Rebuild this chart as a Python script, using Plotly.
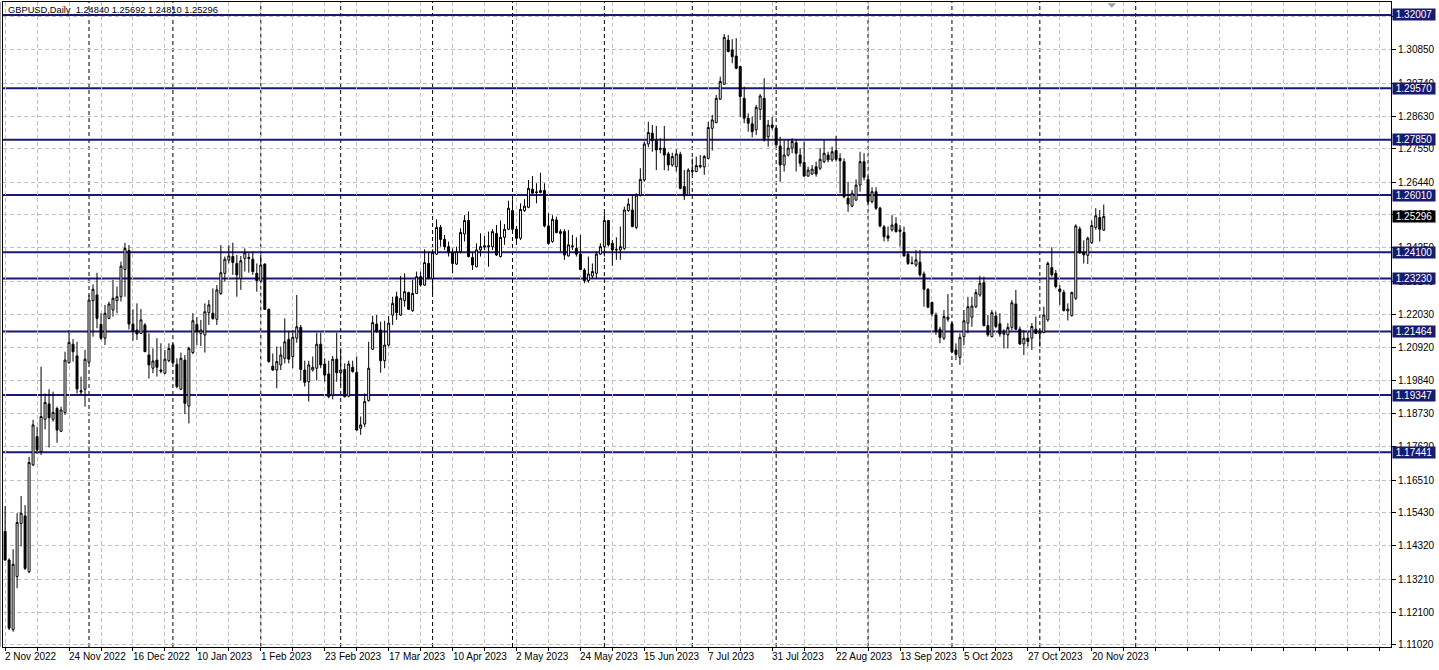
import pandas as pd
import plotly.graph_objects as go

# ---------------- data ----------------
header_text = "GBPUSD,Daily\u00a0\u00a01.24840 1.25692 1.24810 1.25296"

trading_days = pd.bdate_range("2022-11-02", "2023-11-23")
trading_days = trading_days[trading_days != pd.Timestamp("2022-12-26")]

open_prices = [
    1.1480, 1.1385, 1.1154, 1.1330, 1.1507, 1.1532, 1.1346, 1.1702, 1.1796, 1.1746,
    1.1854, 1.1905, 1.1854, 1.1890, 1.1814, 1.1876, 1.2042, 1.2104, 1.2065, 1.1949,
    1.1954, 1.2044, 1.2249, 1.2268, 1.2170, 1.2124, 1.2190, 1.2218, 1.2249, 1.2262,
    1.2353, 1.2416, 1.2171, 1.2151, 1.2140, 1.2168, 1.2068, 1.2024, 1.2051, 1.2018,
    1.2007, 1.2049, 1.2101, 1.2037, 1.1954, 1.2051, 1.1898, 1.2076, 1.2170, 1.2140,
    1.2135, 1.2209, 1.2207, 1.2187, 1.2273, 1.2340, 1.2384, 1.2396, 1.2373, 1.2323,
    1.2390, 1.2393, 1.2387, 1.2340, 1.2314, 1.2371, 1.2220, 1.2031, 1.2018, 1.2035,
    1.2057, 1.2120, 1.2063, 1.2124, 1.2160, 1.2018, 1.1979, 1.2018, 1.2024, 1.2104,
    1.2038, 1.2005, 1.1935, 1.2054, 1.2009, 1.2020, 1.1931, 1.2027, 1.2010, 1.1824,
    1.1838, 1.1916, 1.2087, 1.2171, 1.2151, 1.2049, 1.2101, 1.2201, 1.2262, 1.2201,
    1.2249, 1.2276, 1.2216, 1.2273, 1.2329, 1.2301, 1.2373, 1.2323, 1.2404, 1.2493,
    1.2453, 1.2429, 1.2409, 1.2371, 1.2412, 1.2471, 1.2516, 1.2393, 1.2362, 1.2418,
    1.2427, 1.2432, 1.2429, 1.2473, 1.2396, 1.2460, 1.2487, 1.2549, 1.2487, 1.2457,
    1.2549, 1.2560, 1.2620, 1.2609, 1.2609, 1.2616, 1.2498, 1.2446, 1.2518, 1.2479,
    1.2479, 1.2398, 1.2429, 1.2423, 1.2404, 1.2351, 1.2316, 1.2331, 1.2340, 1.2404,
    1.2429, 1.2516, 1.2440, 1.2418, 1.2418, 1.2423, 1.2549, 1.2551, 1.2493, 1.2601,
    1.2651, 1.2771, 1.2807, 1.2782, 1.2757, 1.2757, 1.2738, 1.2701, 1.2695, 1.2736,
    1.2629, 1.2601, 1.2679, 1.2679, 1.2695, 1.2695, 1.2723, 1.2823, 1.2842, 1.2920,
    1.2970, 1.3117, 1.3084, 1.3064, 1.3029, 1.2923, 1.2857, 1.2838, 1.2818, 1.2886,
    1.2923, 1.2795, 1.2834, 1.2823, 1.2764, 1.2701, 1.2734, 1.2757, 1.2775, 1.2734,
    1.2709, 1.2664, 1.2671, 1.2695, 1.2690, 1.2712, 1.2734, 1.2718, 1.2749, 1.2723,
    1.2712, 1.2590, 1.2564, 1.2584, 1.2634, 1.2712, 1.2653, 1.2579, 1.2612, 1.2557,
    1.2495, 1.2465, 1.2485, 1.2505, 1.2479, 1.2476, 1.2404, 1.2372, 1.2368, 1.2377,
    1.2338, 1.2287, 1.2243, 1.2201, 1.2154, 1.2124, 1.2187, 1.2172, 1.2085, 1.2060,
    1.2129, 1.2174, 1.2194, 1.2229, 1.2268, 1.2309, 1.2166, 1.2129, 1.2198, 1.2172,
    1.2137, 1.2135, 1.2160, 1.2238, 1.2154, 1.2105, 1.2124, 1.2124, 1.2154, 1.2138,
    1.2143, 1.2185, 1.2359, 1.2340, 1.2288, 1.2277, 1.2215, 1.2199, 1.2257, 1.2488,
    1.2409, 1.2400, 1.2442, 1.2493, 1.2526, 1.24840,
]

high_prices = [
    1.1565, 1.1391, 1.1421, 1.1541, 1.1598, 1.1568, 1.1729, 1.1852, 1.1829, 1.2029,
    1.1940, 1.1954, 1.1946, 1.1896, 1.1896, 1.2079, 1.2151, 1.2121, 1.2112, 1.1996,
    1.2085, 1.2268, 1.2303, 1.2342, 1.2207, 1.2235, 1.2246, 1.2318, 1.2296, 1.2379,
    1.2442, 1.2434, 1.2220, 1.2240, 1.2221, 1.2174, 1.2140, 1.2090, 1.2124, 1.2107,
    1.2085, 1.2107, 1.2107, 1.2057, 1.2076, 1.2068, 1.2096, 1.2207, 1.2194, 1.2185,
    1.2240, 1.2251, 1.2290, 1.2301, 1.2434, 1.2396, 1.2434, 1.2442, 1.2401, 1.2398,
    1.2423, 1.2407, 1.2412, 1.2373, 1.2401, 1.2373, 1.2223, 1.2073, 1.2096, 1.2096,
    1.2190, 1.2146, 1.2151, 1.2268, 1.2168, 1.2049, 1.2049, 1.2063, 1.2142, 1.2142,
    1.2057, 1.2049, 1.2065, 1.2142, 1.2090, 1.2040, 1.2049, 1.2049, 1.2063, 1.1863,
    1.1940, 1.2112, 1.2199, 1.2201, 1.2179, 1.2182, 1.2198, 1.2262, 1.2279, 1.2331,
    1.2340, 1.2279, 1.2318, 1.2346, 1.2346, 1.2420, 1.2412, 1.2420, 1.2520, 1.2501,
    1.2468, 1.2446, 1.2423, 1.2429, 1.2490, 1.2534, 1.2546, 1.2412, 1.2440, 1.2473,
    1.2464, 1.2479, 1.2487, 1.2501, 1.2516, 1.2504, 1.2582, 1.2587, 1.2498, 1.2573,
    1.2587, 1.2651, 1.2664, 1.2640, 1.2675, 1.2640, 1.2540, 1.2534, 1.2529, 1.2487,
    1.2487, 1.2484, 1.2468, 1.2460, 1.2468, 1.2357, 1.2396, 1.2373, 1.2412, 1.2440,
    1.2542, 1.2518, 1.2451, 1.2460, 1.2496, 1.2562, 1.2590, 1.2601, 1.2607, 1.2690,
    1.2779, 1.2845, 1.2834, 1.2831, 1.2790, 1.2831, 1.2745, 1.2742, 1.2753, 1.2745,
    1.2684, 1.2690, 1.2723, 1.2729, 1.2734, 1.2734, 1.2845, 1.2868, 1.2934, 1.2995,
    1.3137, 1.3134, 1.3120, 1.3123, 1.3029, 1.2962, 1.2873, 1.2862, 1.2901, 1.2937,
    1.2990, 1.2851, 1.2862, 1.2829, 1.2795, 1.2784, 1.2786, 1.2790, 1.2784, 1.2757,
    1.2779, 1.2695, 1.2701, 1.2712, 1.2757, 1.2784, 1.2745, 1.2762, 1.2798, 1.2740,
    1.2723, 1.2645, 1.2618, 1.2653, 1.2745, 1.2740, 1.2665, 1.2627, 1.2627, 1.2562,
    1.2501, 1.2496, 1.2534, 1.2527, 1.2501, 1.2496, 1.2412, 1.2396, 1.2418, 1.2418,
    1.2346, 1.2290, 1.2246, 1.2209, 1.2162, 1.2218, 1.2271, 1.2179, 1.2107, 1.2140,
    1.2218, 1.2262, 1.2262, 1.2287, 1.2332, 1.2329, 1.2201, 1.2218, 1.2213, 1.2207,
    1.2154, 1.2174, 1.2251, 1.2285, 1.2163, 1.2151, 1.2146, 1.2174, 1.2196, 1.2154,
    1.2229, 1.2379, 1.2427, 1.2351, 1.2301, 1.2285, 1.2240, 1.2279, 1.2503, 1.2496,
    1.2450, 1.2462, 1.2516, 1.2557, 1.2551, 1.25692,
]

low_prices = [
    1.1383, 1.1152, 1.1146, 1.1291, 1.1430, 1.1352, 1.1341, 1.1698, 1.1738, 1.1735,
    1.1820, 1.1760, 1.1846, 1.1776, 1.1811, 1.1868, 1.2040, 1.2046, 1.1940, 1.1935,
    1.1896, 1.2040, 1.2129, 1.2157, 1.2118, 1.2101, 1.2187, 1.2196, 1.2207, 1.2246,
    1.2262, 1.2153, 1.2116, 1.2118, 1.2138, 1.2079, 1.1990, 1.2007, 1.1996, 1.2007,
    1.2004, 1.2044, 1.2040, 1.1957, 1.1951, 1.1871, 1.1840, 1.2071, 1.2101, 1.2098,
    1.2076, 1.2168, 1.2185, 1.2168, 1.2268, 1.2312, 1.2373, 1.2335, 1.2262, 1.2285,
    1.2346, 1.2342, 1.2335, 1.2279, 1.2309, 1.2218, 1.2042, 1.2015, 1.1957, 1.2018,
    1.2040, 1.2040, 1.2024, 1.2109, 1.1983, 1.1963, 1.1913, 1.2013, 1.1983, 1.2024,
    1.1979, 1.1924, 1.1920, 1.1979, 1.1968, 1.1927, 1.1927, 1.2009, 1.1816, 1.1802,
    1.1829, 1.1913, 1.2085, 1.2142, 1.2009, 1.2024, 1.2096, 1.2168, 1.2185, 1.2198,
    1.2229, 1.2218, 1.2212, 1.2271, 1.2296, 1.2298, 1.2320, 1.2271, 1.2401, 1.2429,
    1.2418, 1.2396, 1.2340, 1.2368, 1.2407, 1.2446, 1.2393, 1.2351, 1.2360, 1.2396,
    1.2418, 1.2362, 1.2418, 1.2398, 1.2393, 1.2435, 1.2484, 1.2484, 1.2435, 1.2451,
    1.2545, 1.2557, 1.2607, 1.2573, 1.2607, 1.2493, 1.2435, 1.2442, 1.2473, 1.2412,
    1.2385, 1.2396, 1.2418, 1.2396, 1.2351, 1.2307, 1.2309, 1.2323, 1.2323, 1.2401,
    1.2396, 1.2429, 1.2365, 1.2385, 1.2385, 1.2418, 1.2545, 1.2493, 1.2487, 1.2596,
    1.2645, 1.2760, 1.2745, 1.2684, 1.2740, 1.2684, 1.2682, 1.2695, 1.2679, 1.2620,
    1.2584, 1.2598, 1.2668, 1.2677, 1.2690, 1.2668, 1.2720, 1.2749, 1.2840, 1.2918,
    1.2967, 1.3076, 1.3040, 1.3020, 1.2862, 1.2840, 1.2812, 1.2793, 1.2801, 1.2851,
    1.2779, 1.2762, 1.2818, 1.2764, 1.2645, 1.2679, 1.2729, 1.2740, 1.2679, 1.2695,
    1.2662, 1.2662, 1.2668, 1.2662, 1.2684, 1.2707, 1.2710, 1.2712, 1.2712, 1.2607,
    1.2590, 1.2545, 1.2560, 1.2582, 1.2612, 1.2650, 1.2570, 1.2573, 1.2551, 1.2493,
    1.2446, 1.2446, 1.2479, 1.2476, 1.2429, 1.2396, 1.2368, 1.2371, 1.2362, 1.2329,
    1.2229, 1.2224, 1.2196, 1.2135, 1.2107, 1.2118, 1.2179, 1.2074, 1.2051, 1.2035,
    1.2101, 1.2140, 1.2162, 1.2224, 1.2262, 1.2163, 1.2129, 1.2127, 1.2157, 1.2129,
    1.2090, 1.2090, 1.2151, 1.2151, 1.2101, 1.2068, 1.2096, 1.2085, 1.2138, 1.2096,
    1.2140, 1.2179, 1.2329, 1.2290, 1.2235, 1.2213, 1.2183, 1.2196, 1.2251, 1.2405,
    1.2373, 1.2371, 1.2438, 1.2485, 1.2446, 1.24810,
]

close_prices = [
    1.1385, 1.1158, 1.1371, 1.1510, 1.1541, 1.1357, 1.1710, 1.1835, 1.1752, 1.1863,
    1.1910, 1.1859, 1.1877, 1.1818, 1.1885, 1.2051, 1.2110, 1.2079, 1.1955, 1.1945,
    1.2054, 1.2251, 1.2287, 1.2190, 1.2124, 1.2207, 1.2238, 1.2257, 1.2262, 1.2364,
    1.2423, 1.2171, 1.2146, 1.2138, 1.2185, 1.2079, 1.2035, 1.2048, 1.2027, 1.2014,
    1.2054, 1.2090, 1.2042, 1.1963, 1.2057, 1.1907, 1.2090, 1.2182, 1.2146, 1.2151,
    1.2212, 1.2235, 1.2190, 1.2285, 1.2342, 1.2387, 1.2398, 1.2376, 1.2335, 1.2382,
    1.2409, 1.2390, 1.2346, 1.2316, 1.2368, 1.2220, 1.2046, 1.2018, 1.2046, 1.2068,
    1.2112, 1.2054, 1.2127, 1.2162, 1.2020, 1.1977, 1.2035, 1.2027, 1.2104, 1.2035,
    1.2001, 1.1929, 1.2054, 1.2009, 1.2018, 1.1929, 1.2038, 1.2013, 1.1818, 1.1835,
    1.1913, 1.2024, 1.2176, 1.2146, 1.2049, 1.2101, 1.2174, 1.2240, 1.2209, 1.2257,
    1.2279, 1.2220, 1.2273, 1.2329, 1.2301, 1.2376, 1.2323, 1.2409, 1.2493, 1.2453,
    1.2429, 1.2409, 1.2373, 1.2412, 1.2476, 1.2516, 1.2396, 1.2368, 1.2418, 1.2429,
    1.2432, 1.2429, 1.2479, 1.2401, 1.2460, 1.2487, 1.2557, 1.2487, 1.2457, 1.2553,
    1.2564, 1.2623, 1.2607, 1.2611, 1.2616, 1.2498, 1.2440, 1.2520, 1.2476, 1.2473,
    1.2401, 1.2435, 1.2431, 1.2404, 1.2353, 1.2316, 1.2338, 1.2346, 1.2404, 1.2429,
    1.2516, 1.2435, 1.2418, 1.2420, 1.2429, 1.2551, 1.2571, 1.2496, 1.2601, 1.2653,
    1.2771, 1.2809, 1.2782, 1.2751, 1.2753, 1.2734, 1.2701, 1.2729, 1.2738, 1.2623,
    1.2598, 1.2684, 1.2682, 1.2699, 1.2699, 1.2729, 1.2826, 1.2851, 1.2923, 1.2979,
    1.3126, 1.3079, 1.3062, 1.3023, 1.2929, 1.2857, 1.2840, 1.2812, 1.2893, 1.2931,
    1.2784, 1.2834, 1.2826, 1.2768, 1.2701, 1.2734, 1.2757, 1.2779, 1.2740, 1.2707,
    1.2664, 1.2684, 1.2687, 1.2671, 1.2720, 1.2740, 1.2718, 1.2745, 1.2720, 1.2715,
    1.2595, 1.2571, 1.2607, 1.2634, 1.2712, 1.2660, 1.2579, 1.2612, 1.2557, 1.2498,
    1.2462, 1.2457, 1.2501, 1.2479, 1.2485, 1.2398, 1.2373, 1.2374, 1.2385, 1.2335,
    1.2287, 1.2227, 1.2205, 1.2146, 1.2127, 1.2196, 1.2194, 1.2079, 1.2070, 1.2127,
    1.2182, 1.2229, 1.2231, 1.2276, 1.2307, 1.2166, 1.2135, 1.2209, 1.2163, 1.2138,
    1.2144, 1.2160, 1.2242, 1.2154, 1.2105, 1.2124, 1.2113, 1.2163, 1.2140, 1.2146,
    1.2201, 1.2373, 1.2335, 1.2296, 1.2279, 1.2216, 1.2221, 1.2276, 1.2498, 1.2409,
    1.2402, 1.2457, 1.2499, 1.2532, 1.2487, 1.25296,
]

level_values = [1.32007, 1.29570, 1.27850, 1.26010, 1.24100, 1.23230, 1.21464, 1.19347, 1.17441]
last_price = 1.25296
y_tick_values = [1.11020, 1.12100, 1.13210, 1.14320, 1.15430, 1.16510, 1.17620, 1.18730,
                 1.19840, 1.20920, 1.22030, 1.23140, 1.24250, 1.25360, 1.26440, 1.27550,
                 1.28630, 1.29740, 1.30850, 1.31960]
x_label_step = 16          # bars between date labels
x_grid_step = 8            # bars between vertical grid lines
extra_separator_bar = 283  # separator drawn in the empty area on the right
shift_marker_bar = 277     # chart-shift triangle

# ---------------- styling ----------------
FONT = "Liberation Sans"
NAVY = "#191970"
GRID = "#c0c0c0"
y_range = [1.10953, 1.32439]
x_range = [-0.53, 346.9]
PAD = "\u00a0"

n = len(close_prices)
bars = list(range(n))

fig = go.Figure()
fig.add_trace(go.Candlestick(
    x=bars, open=open_prices, high=high_prices, low=low_prices, close=close_prices,
    increasing=dict(line=dict(color="black", width=1), fillcolor="white"),
    decreasing=dict(line=dict(color="black", width=1), fillcolor="black"),
    whiskerwidth=0, showlegend=False, hoverinfo="skip",
))

shapes = []
# month separators (black dashed)
month_starts = [i for i in range(1, n) if trading_days[i].month != trading_days[i - 1].month]
for b in month_starts + [extra_separator_bar]:
    shapes.append(dict(type="line", xref="x", yref="paper", x0=b, x1=b, y0=0, y1=1,
                       line=dict(color="black", width=1, dash="4px,3px"), layer="below"))
# horizontal levels
for lv in level_values:
    shapes.append(dict(type="line", xref="paper", yref="y", x0=0, x1=1, y0=lv, y1=lv,
                       line=dict(color=NAVY, width=2), layer="below"))
# chart shift marker
shapes.append(dict(type="path", xref="x", yref="paper",
                   path=f"M {shift_marker_bar-1.1},0.998 L {shift_marker_bar+1.1},0.998 L {shift_marker_bar},0.991 Z",
                   fillcolor="#a0a0a0", line=dict(color="#a0a0a0", width=0)))
# outer window edge on the left
shapes.append(dict(type="line", xref="paper", yref="paper", x0=-0.0021, x1=-0.0021, y0=0, y1=1,
                   line=dict(color="#606060", width=1)))

annotations = []
annotations.append(dict(text=header_text, xref="paper", yref="paper", x=0, y=1,
                        xanchor="left", yanchor="top", xshift=3, yshift=-1, showarrow=False,
                        font=dict(family=FONT, size=9.3, color="black")))
for k in range(0, n, x_label_step):
    d = trading_days[k]
    annotations.append(dict(text=f"{d.day} {d.strftime('%b %Y')}", xref="x", yref="paper",
                            x=k, y=0, xanchor="left", yanchor="top", xshift=-2, yshift=-2,
                            showarrow=False, font=dict(family=FONT, size=10, color="black")))
for lv in level_values:
    annotations.append(dict(text=f"{PAD}{lv:.5f}{PAD}", xref="paper", yref="y", x=1, y=lv,
                            xanchor="left", yanchor="middle", xshift=1, showarrow=False,
                            bgcolor=NAVY, borderpad=0,
                            font=dict(family=FONT, size=10, color="white")))
annotations.append(dict(text=f"{PAD}{last_price:.5f}{PAD}", xref="paper", yref="y", x=1, y=last_price,
                        xanchor="left", yanchor="middle", xshift=1, showarrow=False,
                        bgcolor="black", borderpad=0,
                        font=dict(family=FONT, size=10, color="white")))

fig.update_layout(
    width=1439, height=670,
    margin=dict(l=3, r=48, t=2, b=23),
    paper_bgcolor="white", plot_bgcolor="white",
    font=dict(family=FONT, size=10, color="black"),
    shapes=shapes, annotations=annotations,
    showlegend=False,
    xaxis=dict(range=x_range, rangeslider=dict(visible=False),
               tickvals=list(range(0, int(x_range[1]) + 1, x_grid_step)),
               showticklabels=False, ticks="outside", ticklen=3, tickcolor="black",
               showgrid=True, gridcolor=GRID, griddash="4px,3px", gridwidth=1,
               showline=True, linecolor="black", linewidth=1, mirror=True,
               zeroline=False, fixedrange=True),
    yaxis=dict(range=y_range, side="right", tickvals=y_tick_values,
               ticktext=[f"{v:.5f}" for v in y_tick_values],
               ticks="outside", ticklen=4, tickcolor="black",
               tickfont=dict(family=FONT, size=10, color="black"),
               showgrid=True, gridcolor=GRID, griddash="4px,3px", gridwidth=1,
               showline=True, linecolor="black", linewidth=1, mirror=True,
               zeroline=False, fixedrange=True),
)

fig.write_html("out.html", config={"displayModeBar": False},
               post_script="document.body.style.margin='0px';document.body.style.overflow='hidden';")
